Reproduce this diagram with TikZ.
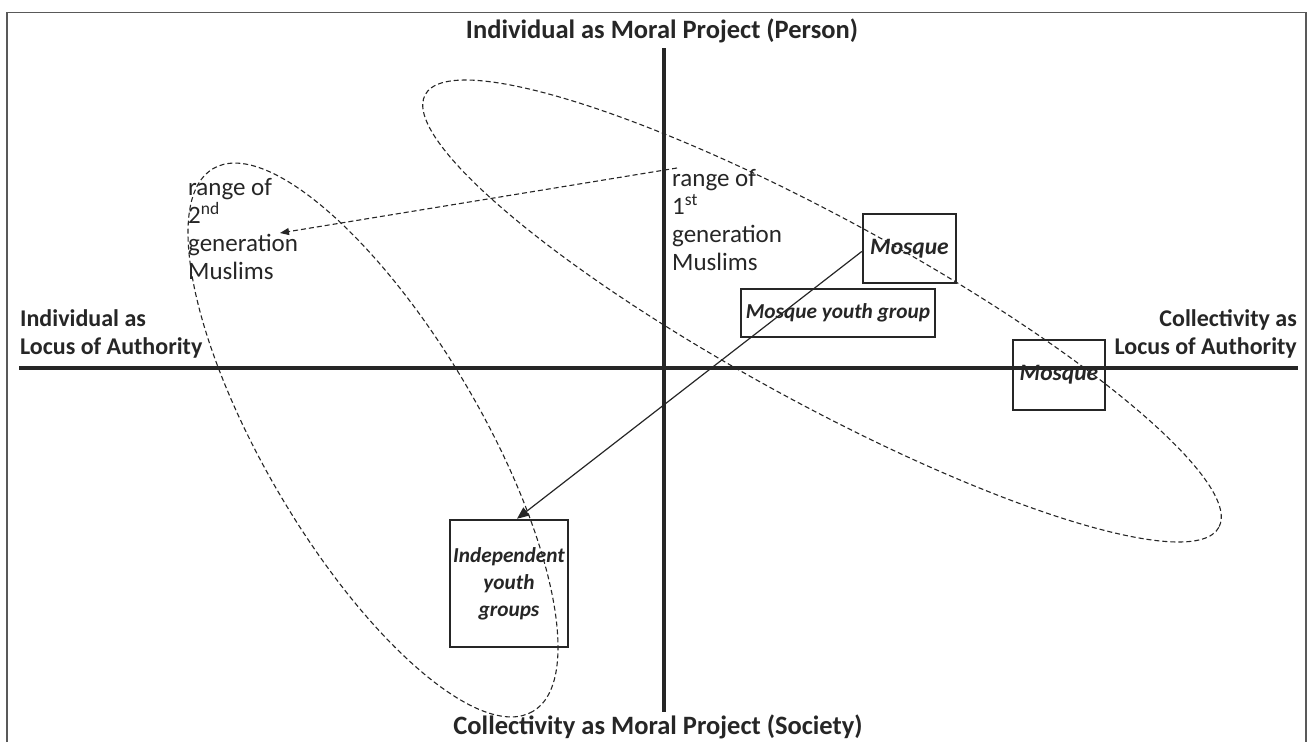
\documentclass[tikz,border=0pt]{standalone}
\usepackage{fontspec}
\setmainfont{Carlito}
\usepackage{tikz}
\usetikzlibrary{arrows.meta}

\begin{document}
\begin{tikzpicture}[x=1pt, y=-1pt,
    axis/.style={line width=4pt, black!85},
    axislabel/.style={font=\fontsize{24}{28}\selectfont\bfseries, text=black!85, inner sep=0pt},
    gentext/.style={font=\fontsize{25}{28}\selectfont, text=black!85, align=left, inner sep=0pt},
    groupbox/.style={draw=black!85, line width=2.5pt, font=\fontsize{21.3}{27}\selectfont\bfseries\itshape, text=black!85, align=center, inner sep=0pt},
    genloop/.style={black!85, line width=1.1pt, dash pattern=on 5pt off 3pt}]

	\useasboundingbox (0,0) rectangle (1309,742);
	\draw[line width=1.8pt, black!65] (7,742) -- (7,12.5) -- (1306,12.5) -- (1306,742);

	% ranges of the two generations
	\draw[genloop, rotate around={-28.6:(822,311)}] (822,311) ellipse [x radius=452, y radius=92];
	\draw[genloop, rotate around={-59.5:(373,440)}] (373,440) ellipse [x radius=315, y radius=108];

	% axes
	\coordinate (west) at (19,368);
	\coordinate (east) at (1298,368);
	\coordinate (north) at (664,48);
	\coordinate (south) at (664,712);
	\draw[axis] (west) -- (east);
	\draw[axis] (north) -- (south);

	\node[axislabel, font=\fontsize{26.5}{30}\selectfont\bfseries] (person) at (662,31) {Individual as Moral Project (Person)};
	\node[axislabel, font=\fontsize{26.5}{30}\selectfont\bfseries] (society) at (658,727) {Collectivity as Moral Project (Society)};
	\node[axislabel, align=left, anchor=south west] (indauth) at (20,358) {Individual as\\Locus of Authority};
	\node[axislabel, align=right, anchor=south east] (colauth) at (1297,358) {Collectivity as\\Locus of Authority};

	\node[gentext, anchor=north west] (first) at (672,169) {range of\\1\textsuperscript{st}\\generation\\Muslims};
	\node[gentext, anchor=north west] (second) at (188,178) {range of\\2\textsuperscript{nd}\\generation\\Muslims};

	% groups
	\node[groupbox, minimum width=93pt, minimum height=69pt, font=\fontsize{23.5}{27}\selectfont\bfseries\itshape] (mosque) at (909.5,248.5) {Mosque};
	\node[groupbox, minimum width=194pt, minimum height=48pt] (youth) at (838,313) {Mosque youth group};
	\node[groupbox, minimum width=92pt, minimum height=70pt, font=\fontsize{23.5}{27}\selectfont\bfseries\itshape] (mosque2) at (1059,375) {Mosque};
	\node[groupbox, minimum width=118pt, minimum height=127pt] (indep) at (509,583.5) {Independent\\youth\\groups};

	\coordinate (from) at (677,168);
	\coordinate (to) at (280,233);
	\draw[genloop, -{Triangle[length=9pt,width=7pt]}] (from) -- (to);
	\draw[line width=1.2pt, black!85, -{Triangle[length=12pt,width=10pt]}] ([yshift=-3pt]mosque.west) -- ([xshift=8pt]indep.north);

\end{tikzpicture}
\end{document}
